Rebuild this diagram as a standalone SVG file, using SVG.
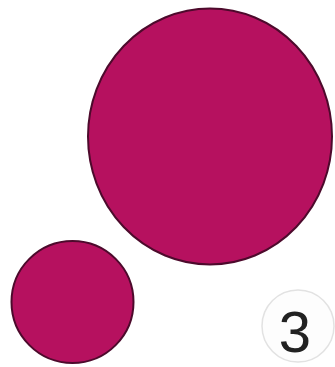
<svg xmlns="http://www.w3.org/2000/svg" width="335" height="367" viewBox="0 0 335 367">
<style>
.dot{fill:#b6115f;stroke:#4d0a2c;stroke-width:2}
.badge{fill:#fdfdfd;stroke:#e2e2e2;stroke-width:1.5}
.num{font-family:"Liberation Sans",Arial,sans-serif;font-size:58px;fill:#222}
</style>
<rect width="335" height="367" fill="#fff"/>
<g id="big"><ellipse class="dot" cx="210" cy="136.5" rx="122" ry="128"/></g>
<g id="small"><circle class="dot" cx="72.5" cy="302" r="61"/></g>
<g id="label"><circle class="badge" cx="298" cy="326" r="36"/>
<text class="num" x="295" y="352" text-anchor="middle">3</text></g>
</svg>
